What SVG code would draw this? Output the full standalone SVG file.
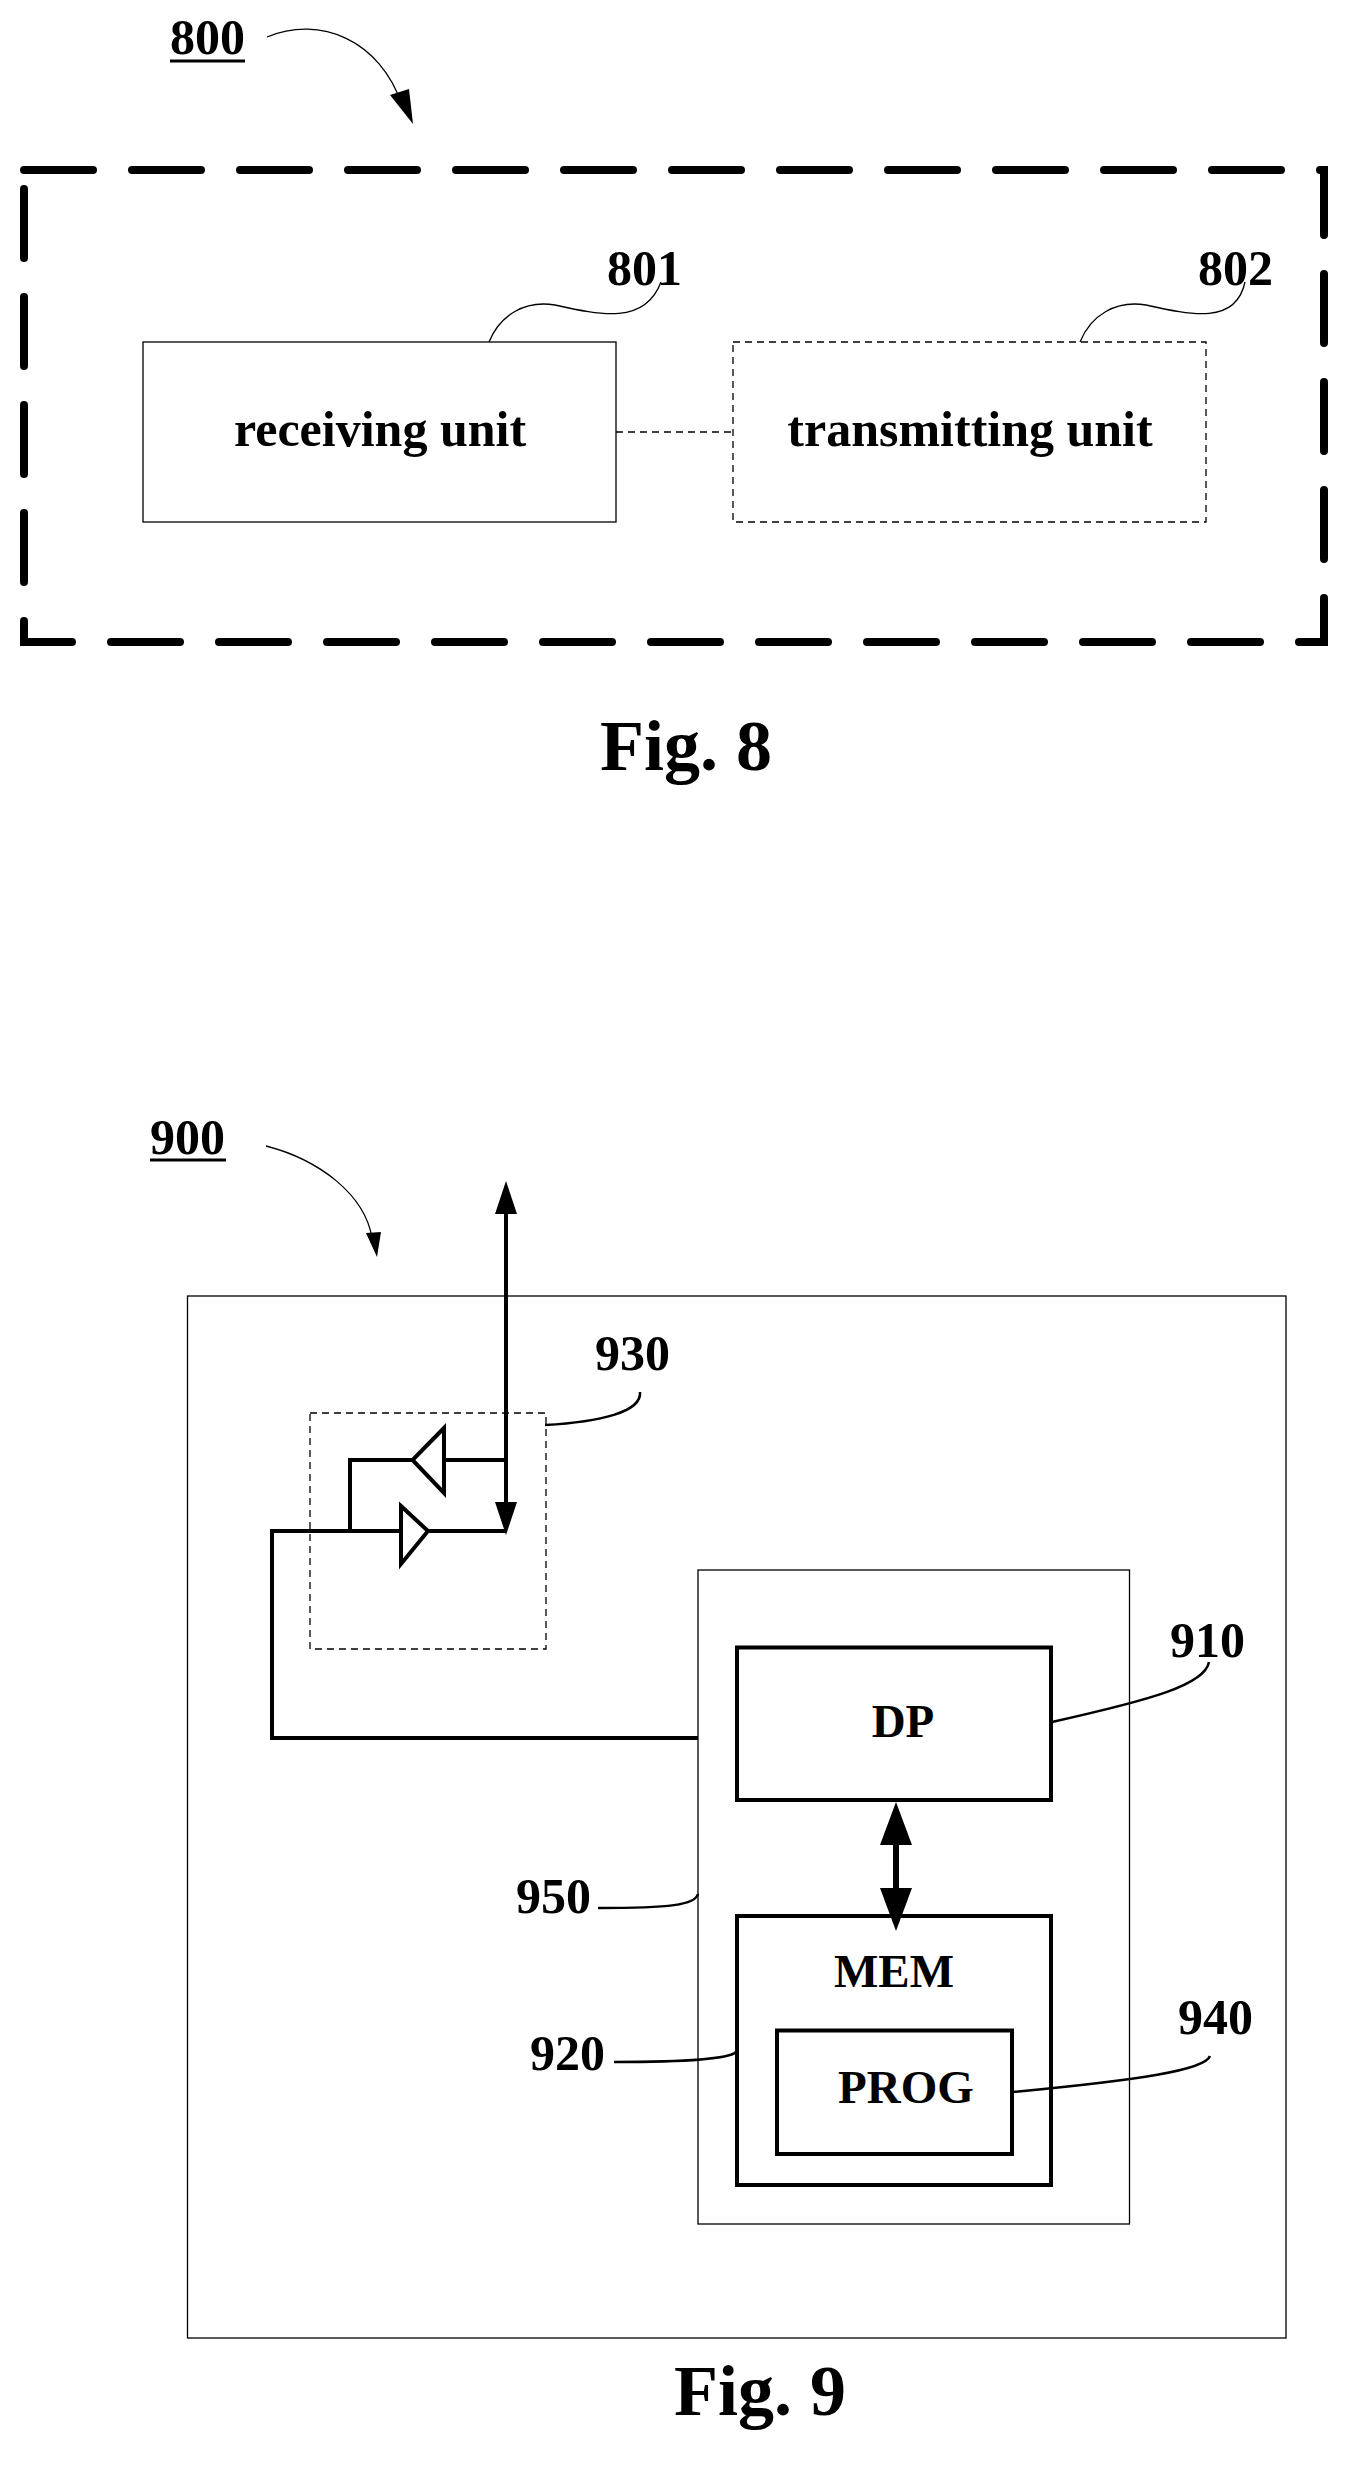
<svg xmlns="http://www.w3.org/2000/svg" width="1349" height="2467" viewBox="0 0 1349 2467">
<style>
text{font-family:"Liberation Serif","Times New Roman",serif;font-weight:bold;fill:#000}
.lbl{font-size:50px}
.box{font-size:47px}
.fig{font-size:72px}
.thin{fill:none;stroke:#000;stroke-width:1.3}
.lead{fill:none;stroke:#000;stroke-width:1.3}
.thick{fill:none;stroke:#000;stroke-width:4}
.dash{fill:none;stroke:#000;stroke-width:1.3;stroke-dasharray:7,5}
</style>
<rect width="1349" height="2467" fill="#fff"/>

<g id="fig8">
<text x="170" y="54" class="lbl">800</text>
<line x1="170" y1="61" x2="245" y2="61" stroke="#000" stroke-width="3"/>
<path d="M267,37 C320,15 380,40 402,105" class="lead"/>
<path d="M390,95 L413,124 L409,89 z" fill="#000"/>
<rect x="24" y="170" width="1300" height="472" fill="none" stroke="#000" stroke-width="8" stroke-dasharray="69,39" stroke-linecap="round"/>
</g>
<g id="n801">
<rect x="143" y="342" width="473" height="180" class="thin"/>
<text x="380" y="446" class="lbl" text-anchor="middle" font-size="48">receiving unit</text>
<text x="607" y="285" class="lbl">801</text>
<path d="M489,342 C500,315 525,300 555,305 C600,315 645,325 661,282" class="lead"/>
</g>
<g id="n802">
<rect x="733" y="342" width="473" height="180" class="dash"/>
<text x="970" y="446" class="lbl" text-anchor="middle" font-size="48">transmitting unit</text>
<text x="1198" y="285" class="lbl">802</text>
<path d="M1080,342 C1091,315 1116,300 1146,305 C1191,315 1236,325 1245,282" class="lead"/>
</g>
<g id="connectors8">
<line x1="616" y1="432" x2="733" y2="432" class="dash"/>
</g>
<text x="686" y="770" class="fig" text-anchor="middle">Fig. 8</text>

<g id="fig9">
<text x="150" y="1154" class="lbl">900</text>
<line x1="150" y1="1160" x2="226" y2="1160" stroke="#000" stroke-width="3"/>
<path d="M266,1146 C320,1160 365,1195 372,1238" class="lead"/>
<path d="M366,1233 L377,1257 L381,1232 z" fill="#000"/>
<rect x="187.5" y="1296" width="1098.5" height="1042" class="thin"/>
</g>
<g id="n930">
<rect x="310" y="1413" width="236" height="236" class="dash"/>
<text x="595" y="1370" class="lbl">930</text>
<path d="M545,1425 C600,1422 642,1412 640,1392" fill="none" stroke="#000" stroke-width="2.5"/>
<path d="M444,1428 L412.5,1460 L444,1493 z" fill="#fff" stroke="#000" stroke-width="4"/>
<path d="M401,1506 L428,1531 L401,1564 z" fill="#fff" stroke="#000" stroke-width="4"/>
</g>
<g id="n950">
<rect x="698" y="1570" width="431.5" height="654" class="thin"/>
<text x="516" y="1913" class="lbl">950</text>
<path d="M598,1908 C670,1908 695,1905 698,1894" fill="none" stroke="#000" stroke-width="2.5"/>
</g>
<g id="n910">
<rect x="737" y="1647.5" width="314" height="152.5" class="thick"/>
<text x="903" y="1737" class="box" text-anchor="middle">DP</text>
<text x="1170" y="1657" class="lbl">910</text>
<path d="M1052,1722 C1150,1700 1205,1685 1209,1662" fill="none" stroke="#000" stroke-width="2.5"/>
</g>
<g id="n920">
<rect x="737" y="1916" width="314" height="269" class="thick"/>
<text x="894" y="1987" class="box" text-anchor="middle">MEM</text>
<text x="530" y="2070" class="lbl">920</text>
<path d="M614,2062 C700,2062 730,2058 736,2052" fill="none" stroke="#000" stroke-width="2.5"/>
</g>
<g id="n940">
<rect x="777" y="2030.5" width="235" height="123.5" class="thick"/>
<text x="906" y="2103" class="box" text-anchor="middle">PROG</text>
<text x="1178" y="2034" class="lbl">940</text>
<path d="M1013,2092 C1140,2080 1205,2070 1210,2056" fill="none" stroke="#000" stroke-width="2.5"/>
</g>
<g id="connectors9">
<line x1="506" y1="1212" x2="506" y2="1505" stroke="#000" stroke-width="4"/>
<path d="M506,1181 L495,1214 L517,1214 z" fill="#000"/>
<path d="M506,1535 L495,1502 L517,1502 z" fill="#000"/>
<polyline points="506,1460 444,1460" class="thick"/>
<polyline points="412.5,1460 350,1460 350,1531" class="thick"/>
<polyline points="428,1531 506,1531" class="thick"/>
<polyline points="401,1531 272,1531 272,1738 698,1738" class="thick"/>
<line x1="896" y1="1842" x2="896" y2="1890" stroke="#000" stroke-width="6"/>
<path d="M896,1802 L880,1845 L912,1845 z" fill="#000"/>
<path d="M896,1931 L880,1888 L912,1888 z" fill="#000"/>
</g>
<text x="760" y="2415" class="fig" text-anchor="middle">Fig. 9</text>
</svg>
